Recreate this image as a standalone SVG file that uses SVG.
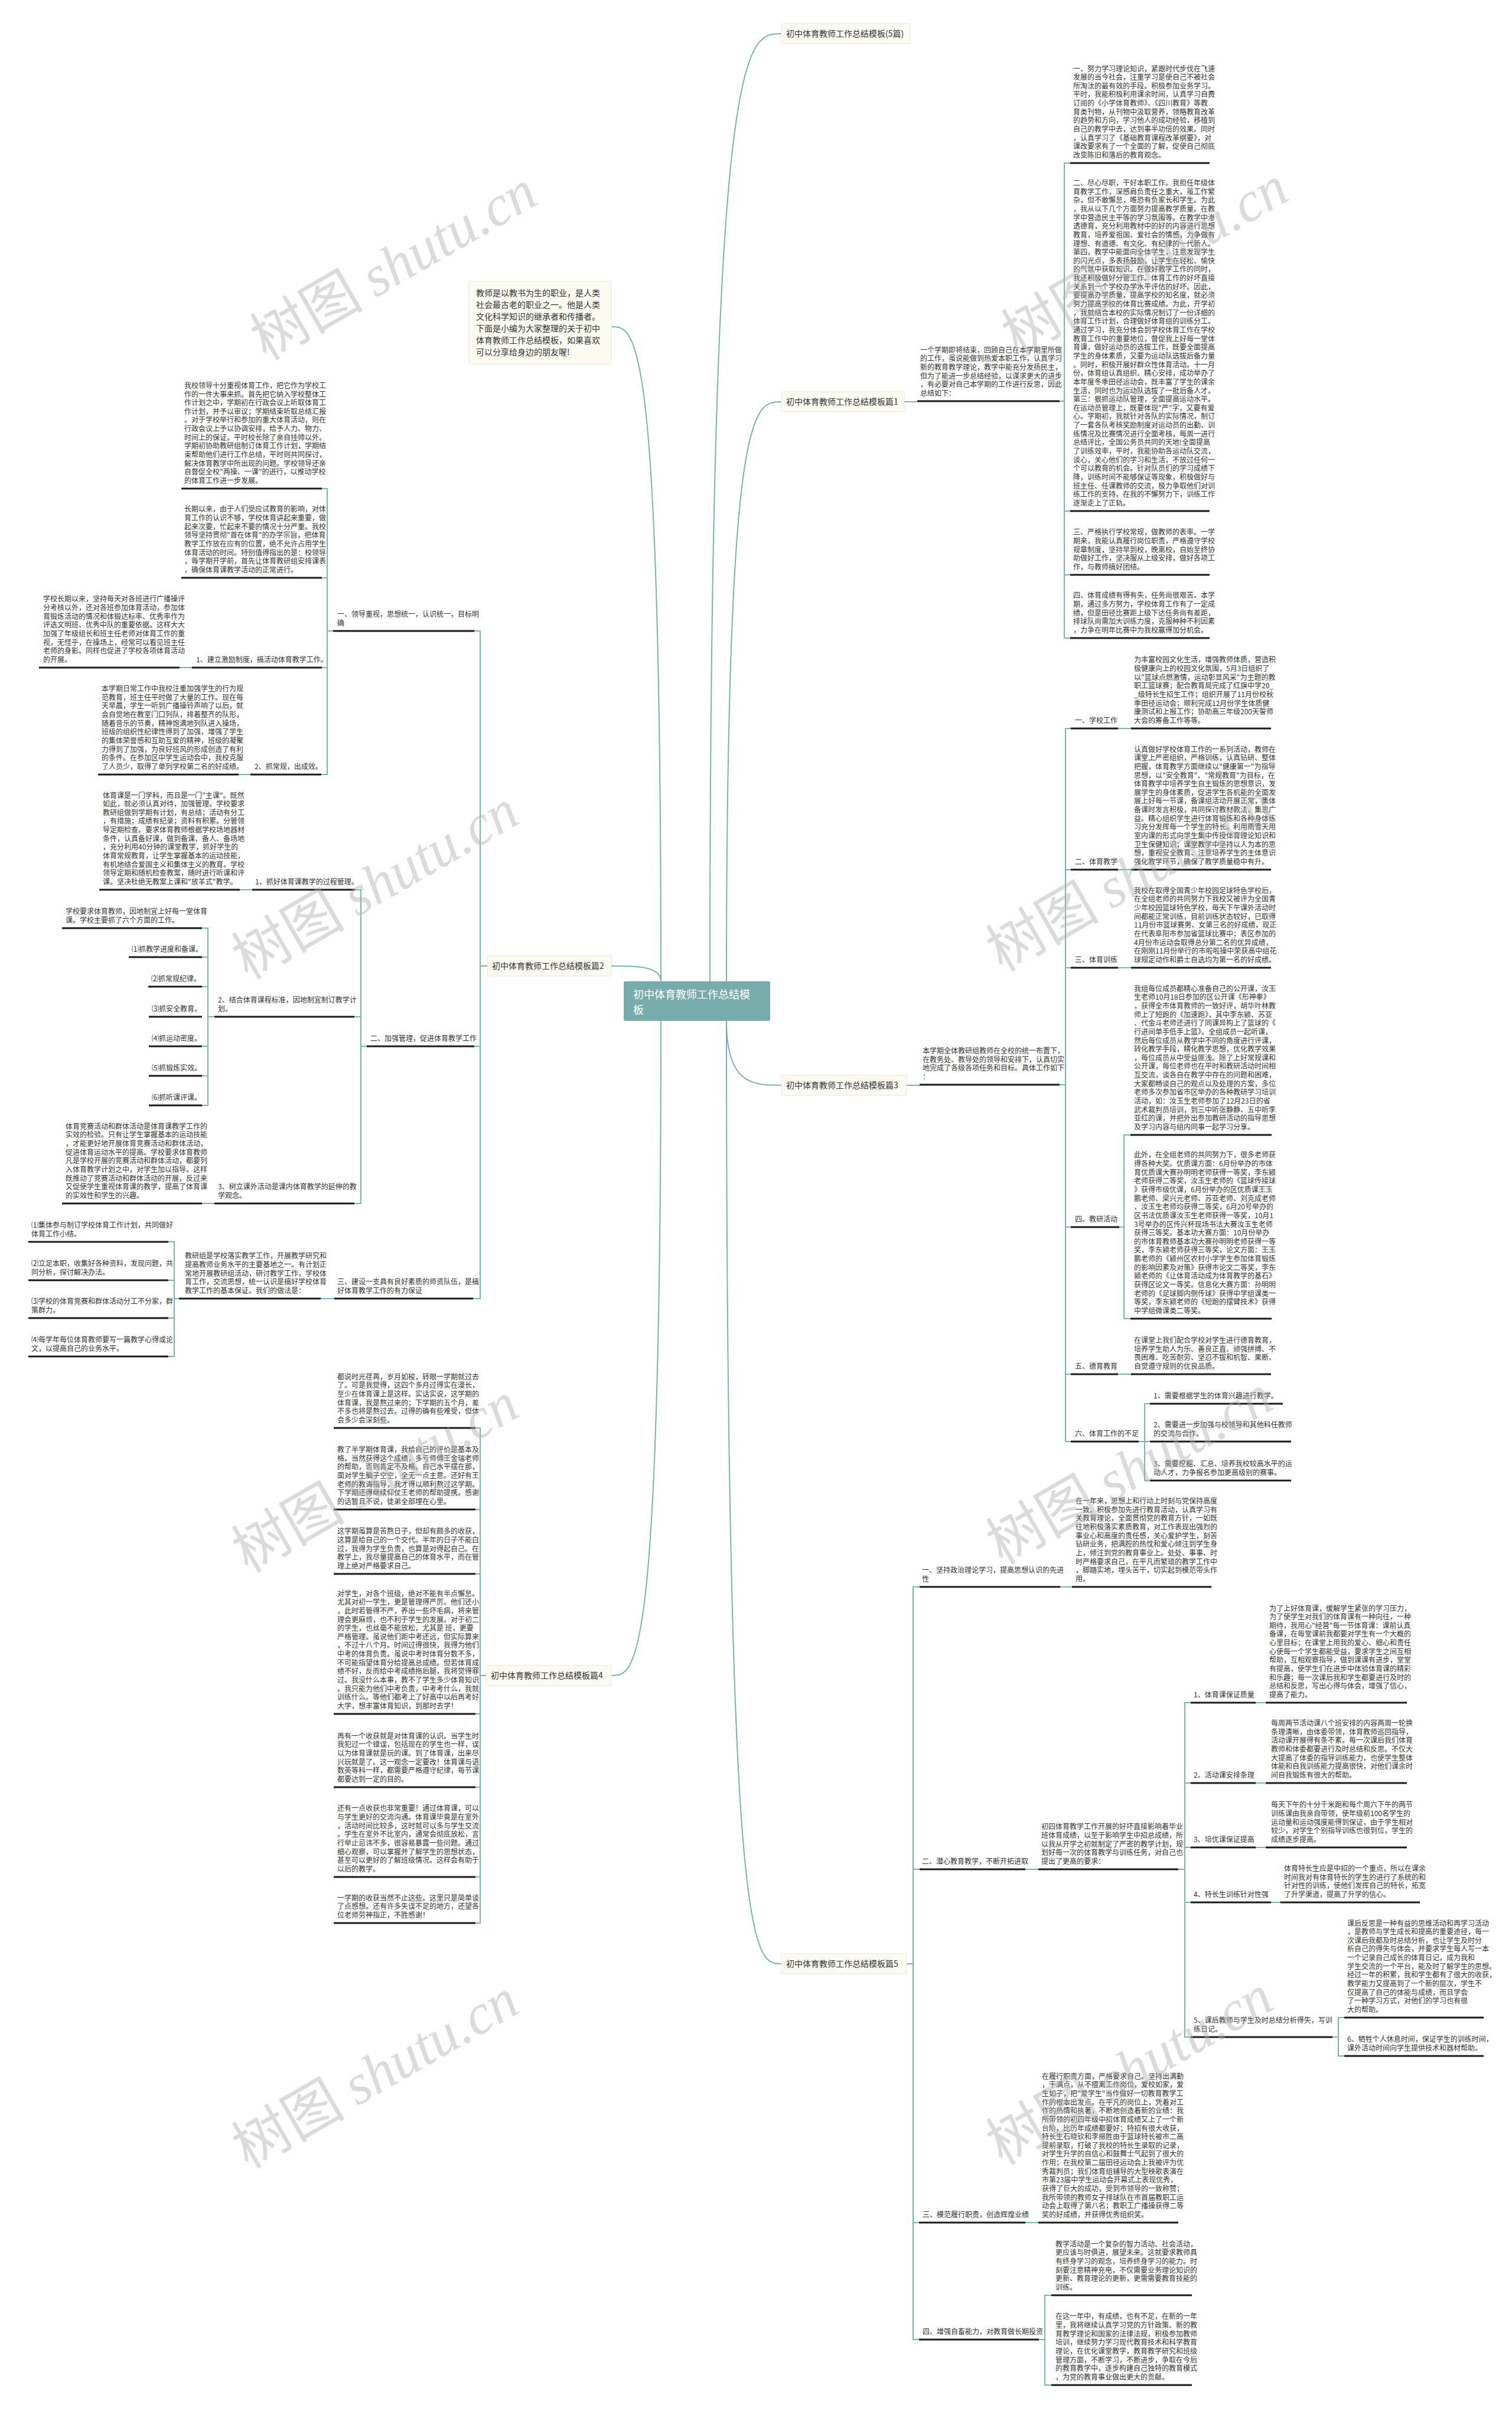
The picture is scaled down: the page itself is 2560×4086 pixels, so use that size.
<svg xmlns="http://www.w3.org/2000/svg" width="2560" height="4086" viewBox="0 0 2560 4086">
<style>
.c{fill:none;stroke:#7db2b2;stroke-width:2}
.u{stroke:#1a1a1a;stroke-width:3}
text{font-family:"Noto Sans CJK SC","Noto Sans",sans-serif;fill:#333}
.p{font-size:12px}
.h{font-size:14px}
.b{fill:#fcfbf1;stroke:#e9e5d3;stroke-width:1}
.wm{font-family:"Noto Sans CJK SC",serif;font-size:96px;fill:#b0b0b0;opacity:0.45}
.wm tspan{font-family:"Liberation Serif",serif;font-style:italic}
</style>
<rect width="2560" height="4086" fill="#ffffff"/>
<g id="connectors">
<path class="c" d="M1202,1661 C1202,57 1262,57 1323,57"/>
<path class="c" d="M1230,1661 C1230,680 1276,680 1323,680"/>
<path class="c" d="M1230,1728 C1230,1837 1276,1837 1323,1837"/>
<path class="c" d="M1230,1728 C1230,3324 1276,3324 1323,3324"/>
<path class="c" d="M1119,1661 C1119,553 1077,553 1035,553"/>
<path class="c" d="M1119,1661 C1119,1635 1077,1635 1035,1635"/>
<path class="c" d="M1119,1728 C1119,2836 1077,2836 1035,2836"/>
<path class="c" d="M1531,680 H1553"/>
<path class="c" d="M1794,679 H1802 V276 H1812 M1802,679 V1080 H1812 M1802,865 H1812 M1802,973 H1812"/>
<path class="c" d="M1535,1837 H1557"/>
<path class="c" d="M1794,1836 H1804 V1233 H1813 M1804,1836 V2440 H1813 M1804,1472 H1813 M1804,1638 H1813 M1804,2077 H1813 M1804,2326 H1813"/>
<path class="c" d="M1893,1233 H1915 M1893,1472 H1915 M1893,1638 H1915 M1893,2326 H1915"/>
<path class="c" d="M1895,2077 H1903 V1921 H1914 M1903,2077 V2232 H1914"/>
<path class="c" d="M1928,2440 H1938 V2376 H1947 M1938,2440 V2506 H1947 M1938,2440 H1947"/>
<path class="c" d="M1535,3324 H1546 V2686 H1557 M1546,3324 V3960 H1557 M1546,3164 H1557 M1546,3762 H1557"/>
<path class="c" d="M1795,2686 H1815 M1736,3164 H1758 M1736,3762 H1758"/>
<path class="c" d="M1995,3164 H2006 V2882 H2016 M2006,3164 V3448 H2016 M2006,3018 H2016 M2006,3127 H2016 M2006,3220 H2016"/>
<path class="c" d="M2126,2882 H2143 M2126,3018 H2143 M2126,3127 H2143 M2152,3220 H2168"/>
<path class="c" d="M2256,3448 H2266 V3415 H2276 M2266,3448 V3480 H2276"/>
<path class="c" d="M1759,3960 H1769 V3885 H1780 M1769,3960 V4037 H1780"/>
<path class="c" d="M825,1635 H813 V1068 H803 M813,1635 V2198 H801 M813,1771 H803"/>
<path class="c" d="M564,1068 H554 V827 H545 M554,1068 V1311 H544 M554,978 H545 M554,1130 H545"/>
<path class="c" d="M325,1130 H304 M424,1311 H404"/>
<path class="c" d="M621,1771 H611 V1506 H601 M611,1771 V2037 H600 M611,1721 H600"/>
<path class="c" d="M427,1506 H406 M363,2037 H342"/>
<path class="c" d="M363,1721 H352 V1571 H342 M352,1721 V1871 H342 M352,1620 H342 M352,1670 H342 M352,1771 H342 M352,1821 H342"/>
<path class="c" d="M566,2198 H543"/>
<path class="c" d="M303,2198 H295 V2102 H285 M295,2198 V2296 H285 M295,2167 H285 M295,2231 H285"/>
<path class="c" d="M823,2836 H813 V2417 H805 M813,2836 V3255 H805 M813,2555 H805 M813,2664 H805 M813,2901 H805 M813,3025 H805 M813,3177 H805"/>
</g>

<g id="center">
<rect x="1056" y="1661" width="248" height="67" rx="3" fill="#78abab"/>
<text x="1072" y="1690" style="font-size:18px" fill="#ffffff"><tspan x="1072" y="1690" fill="#ffffff">初中体育教师工作总结模</tspan><tspan x="1072" y="1716" fill="#ffffff">板</tspan></text>
</g>

<g id="title">
<rect class="b" x="1323" y="40" width="218" height="34" rx="2"/>
<text class="h" x="1331" y="62">初中体育教师工作总结模板(5篇)</text>
</g>

<g id="intro">
<rect class="b" x="794" y="476" width="241" height="140" rx="2"/>
<text class="h"><tspan x="806" y="501">教师是以教书为生的职业，是人类</tspan><tspan x="806" y="521">社会最古老的职业之一。他是人类</tspan><tspan x="806" y="541">文化科学知识的继承者和传播者。</tspan><tspan x="806" y="561">下面是小编为大家整理的关于初中</tspan><tspan x="806" y="581">体育教师工作总结模板，如果喜欢</tspan><tspan x="806" y="601">可以分享给身边的朋友喔!</tspan></text>
</g>

<!-- Board 1 -->
<g id="b1">
<rect class="b" x="1323" y="663" width="208" height="34" rx="2"/>
<text class="h" x="1331" y="685">初中体育教师工作总结模板篇1</text>
</g>
<g id="b1-intro">
<line class="u" x1="1553" y1="679" x2="1794" y2="679"/>
<text class="p"><tspan x="1558" y="596.75">一个学期即将结束，回顾自己在本学期里所做</tspan><tspan x="1558" dy="14.65">的工作，虽说能做到热爱本职工作，认真学习</tspan><tspan x="1558" dy="14.65">新的教育教学理论，教学中能充分发扬民主，</tspan><tspan x="1558" dy="14.65">但为了能进一步总结经验，以谋求更大的进步</tspan><tspan x="1558" dy="14.65">，有必要对自己本学期的工作进行反思，因此</tspan><tspan x="1558" dy="14.65">总结如下：</tspan></text>
</g>
<g id="b1-p1">
<line class="u" x1="1812" y1="276" x2="2048" y2="276"/>
<text class="p"><tspan x="1817" y="120.5">一、努力学习理论知识，紧跟时代步伐在飞速</tspan><tspan x="1817" dy="14.65">发展的当今社会，注重学习是使自己不被社会</tspan><tspan x="1817" dy="14.65">所淘汰的最有效的手段。积极参加业务学习。</tspan><tspan x="1817" dy="14.65">平时，我能积极利用课余时间，认真学习自费</tspan><tspan x="1817" dy="14.65">订阅的《小学体育教师》、《四川教育》等教</tspan><tspan x="1817" dy="14.65">育类刊物，从刊物中汲取营养，领略教育改革</tspan><tspan x="1817" dy="14.65">的趋势和方向，学习他人的成功经验，移植到</tspan><tspan x="1817" dy="14.65">自己的教学中去，达到事半功倍的效果。同时</tspan><tspan x="1817" dy="14.65">，认真学习了《基础教育课程改革纲要》，对</tspan><tspan x="1817" dy="14.65">课改要求有了一个全面的了解，促使自己彻底</tspan><tspan x="1817" dy="14.65">改变陈旧和落后的教育观念。</tspan></text>
</g>
<g id="b1-p2">
<line class="u" x1="1812" y1="865" x2="2048" y2="865"/>
<text class="p"><tspan x="1817" y="313.95">二、尽心尽职，干好本职工作。我担任年级体</tspan><tspan x="1817" dy="14.65">育教学工作，深感肩负责任之重大，虽工作繁</tspan><tspan x="1817" dy="14.65">杂，但不敢懈怠，唯恐有负家长和学生。为此</tspan><tspan x="1817" dy="14.65">，我从以下几个方面努力提高教学质量。在教</tspan><tspan x="1817" dy="14.65">学中营造民主平等的学习氛围等。在教学中渗</tspan><tspan x="1817" dy="14.65">透德育，充分利用教材中的好的内容进行思想</tspan><tspan x="1817" dy="14.65">教育，培养爱祖国、爱社会的情感，力争做有</tspan><tspan x="1817" dy="14.65">理想、有道德、有文化、有纪律的一代新人。</tspan><tspan x="1817" dy="14.65">第四，教学中能面向全体学生，注意发现学生</tspan><tspan x="1817" dy="14.65">的闪光点，多表扬鼓励，让学生在轻松、愉快</tspan><tspan x="1817" dy="14.65">的气氛中获取知识。在做好教学工作的同时，</tspan><tspan x="1817" dy="14.65">我还积极做好分管工作。体育工作的好坏直接</tspan><tspan x="1817" dy="14.65">关系到一个学校办学水平评估的好坏。因此，</tspan><tspan x="1817" dy="14.65">要提高办学质量，提高学校的知名度，就必须</tspan><tspan x="1817" dy="14.65">努力提高学校的体育比赛成绩。为此，开学初</tspan><tspan x="1817" dy="14.65">，我就结合本校的实际情况制订了一份详细的</tspan><tspan x="1817" dy="14.65">体育工作计划，合理做好体育组的训练分工。</tspan><tspan x="1817" dy="14.65">通过学习，我充分体会到学校体育工作在学校</tspan><tspan x="1817" dy="14.65">教育工作中的重要地位，督促我上好每一堂体</tspan><tspan x="1817" dy="14.65">育课，做好运动员的选拔工作，既要全面提高</tspan><tspan x="1817" dy="14.65">学生的身体素质，又要为运动队选拔后备力量</tspan><tspan x="1817" dy="14.65">。同时，积极开展好群众性体育活动。十一月</tspan><tspan x="1817" dy="14.65">份，体育组认真组织、精心安排，成功举办了</tspan><tspan x="1817" dy="14.65">本年度冬季田径运动会，既丰富了学生的课余</tspan><tspan x="1817" dy="14.65">生活，同时也为运动队选拔了一批后备人才。</tspan><tspan x="1817" dy="14.65">第三：狠抓运动队管理，全面提高运动水平。</tspan><tspan x="1817" dy="14.65">在运动员管理上，既要体现"严"字，又要有爱</tspan><tspan x="1817" dy="14.65">心。学期初，我就针对各队的实际情况，制订</tspan><tspan x="1817" dy="14.65">了一套各队考核奖励制度对运动员的出勤、训</tspan><tspan x="1817" dy="14.65">练情况及比赛情况进行全面考核，每周一进行</tspan><tspan x="1817" dy="14.65">总结评比，全国公务员共同的天地!全面提高</tspan><tspan x="1817" dy="14.65">了训练效率，平时，我能协助各运动队交流，</tspan><tspan x="1817" dy="14.65">谈心，关心他们的学习和生活，不放过任何一</tspan><tspan x="1817" dy="14.65">个可以教育的机会。针对队员们的学习成绩下</tspan><tspan x="1817" dy="14.65">降，训练时间不能够保证等现象，积极做好与</tspan><tspan x="1817" dy="14.65">班主任、任课教师的交流，极力争取他们对训</tspan><tspan x="1817" dy="14.65">练工作的支持。在我的不懈努力下，训练工作</tspan><tspan x="1817" dy="14.65">逐渐走上了正轨。</tspan></text>
</g>
<g id="b1-p3">
<line class="u" x1="1812" y1="973" x2="2048" y2="973"/>
<text class="p"><tspan x="1817" y="905.4">三、严格执行学校常规，做教师的表率。一学</tspan><tspan x="1817" dy="14.65">期来，我能认真履行岗位职责，严格遵守学校</tspan><tspan x="1817" dy="14.65">规章制度，坚持早到校，晚离校，自始至终协</tspan><tspan x="1817" dy="14.65">助做好工作，坚决服从上级安排，做好各项工</tspan><tspan x="1817" dy="14.65">作，与教师搞好团结。</tspan></text>
</g>
<g id="b1-p4">
<line class="u" x1="1812" y1="1080" x2="2048" y2="1080"/>
<text class="p"><tspan x="1817" y="1012.4">四、体育成绩有得有失，任务尚很艰苦。本学</tspan><tspan x="1817" dy="14.65">期，通过多方努力，学校体育工作有了一定成</tspan><tspan x="1817" dy="14.65">绩，但是田径比赛距上级下达任务尚有差距，</tspan><tspan x="1817" dy="14.65">排球队尚需加大训练力度，克服种种不利因素</tspan><tspan x="1817" dy="14.65">，力争在明年比赛中为我校赢得加分机会。</tspan></text>
</g>

<!-- Board 3 -->
<g id="b3">
<rect class="b" x="1323" y="1820" width="212" height="34" rx="2"/>
<text class="h" x="1331" y="1842">初中体育教师工作总结模板篇3</text>
</g>
<g id="b3-intro">
<line class="u" x1="1557" y1="1836" x2="1794" y2="1836"/>
<text class="p"><tspan x="1562" y="1783.05">本学期全体教研组教师在全校的统一布置下，</tspan><tspan x="1562" dy="14.65">在教务处、教导处的领导和安排下，认真切实</tspan><tspan x="1562" dy="14.65">地完成了各级各项任务和目标。具体工作如下</tspan><tspan x="1562" dy="14.65">：</tspan></text>
</g>
<g id="b3-1">
<line class="u" x1="1813" y1="1233" x2="1893" y2="1233"/>
<text class="p" x="1820" y="1224">一、学校工作</text>
</g>
<g id="b3-1p">
<line class="u" x1="1915" y1="1233" x2="2152" y2="1233"/>
<text class="p"><tspan x="1920" y="1121.45">为丰富校园文化生活，增强教师体质，营造积</tspan><tspan x="1920" dy="14.65">极健康向上的校园文化氛围，5月3日组织了</tspan><tspan x="1920" dy="14.65">以"篮球点燃激情，运动彰显风采"为主题的教</tspan><tspan x="1920" dy="14.65">职工篮球赛；配合教育局完成了红旗中学20_</tspan><tspan x="1920" dy="14.65">_级特长生招生工作；组织开展了11月份校秋</tspan><tspan x="1920" dy="14.65">季田径运动会；顺利完成12月份学生体质健</tspan><tspan x="1920" dy="14.65">康测试和上报工作；协助高三年级200天誓师</tspan><tspan x="1920" dy="14.65">大会的筹备工作等等。</tspan></text>
</g>
<g id="b3-2">
<line class="u" x1="1813" y1="1472" x2="1893" y2="1472"/>
<text class="p" x="1820" y="1463">二、体育教学</text>
</g>
<g id="b3-2p">
<line class="u" x1="1915" y1="1472" x2="2152" y2="1472"/>
<text class="p"><tspan x="1920" y="1272.55">认真做好学校体育工作的一系列活动，教师在</tspan><tspan x="1920" dy="14.65">课堂上严密组织，严格训练，认真钻研、整体</tspan><tspan x="1920" dy="14.65">把握，体育教学方面继续以"健康第一"为指导</tspan><tspan x="1920" dy="14.65">思想，以"安全教育"、"常规教育"为目标，在</tspan><tspan x="1920" dy="14.65">体育教学中培养学生自主锻炼的思想意识，发</tspan><tspan x="1920" dy="14.65">展学生的身体素质，促进学生各机能的全面发</tspan><tspan x="1920" dy="14.65">展上好每一节课，备课组活动开展正常，集体</tspan><tspan x="1920" dy="14.65">备课时发言积极，共同探讨教材教法，集思广</tspan><tspan x="1920" dy="14.65">益。精心组织学生进行体育锻炼和各种身体练</tspan><tspan x="1920" dy="14.65">习充分发挥每一个学生的特长。利用雨雪天用</tspan><tspan x="1920" dy="14.65">室内课的形式向学生集中传授体育理论知识和</tspan><tspan x="1920" dy="14.65">卫生保健知识；课堂教学中坚持以人为本的思</tspan><tspan x="1920" dy="14.65">想，重视安全教育、注意培养学生的主体意识</tspan><tspan x="1920" dy="14.65">强化教学环节，确保了教学质量稳中有升。</tspan></text>
</g>
<g id="b3-3">
<line class="u" x1="1813" y1="1638" x2="1893" y2="1638"/>
<text class="p" x="1820" y="1629">三、体育训练</text>
</g>
<g id="b3-3p">
<line class="u" x1="1915" y1="1638" x2="2152" y2="1638"/>
<text class="p"><tspan x="1920" y="1511.8">我校在取得全国青少年校园足球特色学校后，</tspan><tspan x="1920" dy="14.65">在全组老师的共同努力下我校又被评为全国青</tspan><tspan x="1920" dy="14.65">少年校园篮球特色学校，每天下午课外活动时</tspan><tspan x="1920" dy="14.65">间都能正常训练，目前训练状态较好，已取得</tspan><tspan x="1920" dy="14.65">11月份市篮球赛男、女第三名的好成绩，现正</tspan><tspan x="1920" dy="14.65">在代表阜阳市参加省篮球比赛中；表区参加的</tspan><tspan x="1920" dy="14.65">4月份市运动会取得总分第二名的优异成绩，</tspan><tspan x="1920" dy="14.65">在刚刚11月份举行的市啦啦操中荣获高中组花</tspan><tspan x="1920" dy="14.65">球规定动作和爵士自选均为第一名的好成绩。</tspan></text>
</g>
<g id="b3-4">
<line class="u" x1="1813" y1="2077" x2="1895" y2="2077"/>
<text class="p" x="1820" y="2068">四、教研活动</text>
</g>
<g id="b3-4a">
<line class="u" x1="1914" y1="1921" x2="2153" y2="1921"/>
<text class="p"><tspan x="1920" y="1677.6">我组每位成员都精心准备自己的公开课，汝玉</tspan><tspan x="1920" dy="14.65">生老师10月18日参加的区公开课《形神拳》</tspan><tspan x="1920" dy="14.65">，获得全市体育教师的一致好评，胡华叶林教</tspan><tspan x="1920" dy="14.65">师上了短跑的《加速跑》，其中李东颍、苏亚</tspan><tspan x="1920" dy="14.65">、代金斗老师还进行了同课异构上了篮球的《</tspan><tspan x="1920" dy="14.65">行进间单手低手上篮》。全组成员一起听课，</tspan><tspan x="1920" dy="14.65">然后每位成员从教学中不同的角度进行评课，</tspan><tspan x="1920" dy="14.65">转化教学手段，精化教学思想，优化教学效果</tspan><tspan x="1920" dy="14.65">，每位成员从中受益匪浅。除了上好常规课和</tspan><tspan x="1920" dy="14.65">公开课，每位老师也在平时和教研活动时间相</tspan><tspan x="1920" dy="14.65">互交流，谈各自在教学中存在的问题和困难，</tspan><tspan x="1920" dy="14.65">大家都畅谈自己的观点以及处理的方案，多位</tspan><tspan x="1920" dy="14.65">老师多次参加省市区举办的各种教研学习培训</tspan><tspan x="1920" dy="14.65">活动，如：汝玉生老师参加了12月23日的省</tspan><tspan x="1920" dy="14.65">武术裁判员培训，到三中听张静静、五中听李</tspan><tspan x="1920" dy="14.65">亚红的课，并把外出参加教研活动的指导思想</tspan><tspan x="1920" dy="14.65">及学习内容与组内同事一起学习分享。</tspan></text>
</g>
<g id="b3-4b">
<line class="u" x1="1914" y1="2232" x2="2153" y2="2232"/>
<text class="p"><tspan x="1920" y="1959.3">此外，在全组老师的共同努力下，很多老师获</tspan><tspan x="1920" dy="14.65">得各种大奖。优质课方面：6月份举办的市体</tspan><tspan x="1920" dy="14.65">育优质课大赛孙明明老师获得一等奖，李东颍</tspan><tspan x="1920" dy="14.65">老师获得二等奖，汝玉生老师的《篮球传接球</tspan><tspan x="1920" dy="14.65">》获得市级优课，6月份举办的区优质课王玉</tspan><tspan x="1920" dy="14.65">鹏老师、梁兴元老师、苏亚老师、刘克成老师</tspan><tspan x="1920" dy="14.65">、汝玉生老师均获得二等奖，6月20号举办的</tspan><tspan x="1920" dy="14.65">区书法优质课汝玉生老师获得一等奖，10月1</tspan><tspan x="1920" dy="14.65">3号举办的区传兴杯现场书法大赛汝玉生老师</tspan><tspan x="1920" dy="14.65">获得三等奖。基本功大赛方面：10月份举办</tspan><tspan x="1920" dy="14.65">的市体育教师基本功大赛孙明明老师获得一等</tspan><tspan x="1920" dy="14.65">奖，李东颍老师获得三等奖，论文方面：王玉</tspan><tspan x="1920" dy="14.65">鹏老师的《颍州区农村小学学生参加体育锻炼</tspan><tspan x="1920" dy="14.65">的影响因素及对策》获得市论文二等奖，李东</tspan><tspan x="1920" dy="14.65">颍老师的《让体育活动成为体育教学的基石》</tspan><tspan x="1920" dy="14.65">获得区论文一等奖。信息化大赛方面：孙明明</tspan><tspan x="1920" dy="14.65">老师的《足球脚内侧传球》获得中学组课类一</tspan><tspan x="1920" dy="14.65">等奖，李东颍老师的《短跑的摆臂技术》获得</tspan><tspan x="1920" dy="14.65">中学组微课类二等奖。</tspan></text>
</g>
<g id="b3-5">
<line class="u" x1="1813" y1="2326" x2="1893" y2="2326"/>
<text class="p" x="1820" y="2317">五、德育教育</text>
</g>
<g id="b3-5p">
<line class="u" x1="1915" y1="2326" x2="2152" y2="2326"/>
<text class="p"><tspan x="1920" y="2273.05">在课堂上我们配合学校对学生进行德育教育，</tspan><tspan x="1920" dy="14.65">培养学生助人为乐、善良正直、顽强拼搏、不</tspan><tspan x="1920" dy="14.65">畏困难、吃苦耐劳、坚忍不拔和机智、果断、</tspan><tspan x="1920" dy="14.65">自觉遵守规则的优良品质。</tspan></text>
</g>
<g id="b3-6">
<line class="u" x1="1813" y1="2440" x2="1928" y2="2440"/>
<text class="p" x="1820" y="2431">六、体育工作的不足</text>
</g>
<g id="b3-6-1">
<line class="u" x1="1947" y1="2376" x2="2172" y2="2376"/>
<text class="p" x="1953" y="2367">1、需要根据学生的体育兴趣进行教学。</text>
</g>
<g id="b3-6-2">
<line class="u" x1="1947" y1="2440" x2="2186" y2="2440"/>
<text class="p"><tspan x="1953" y="2416.35">2、需要进一步加强与校领导和其他科任教师</tspan><tspan x="1953" dy="14.65">的交流与合作。</tspan></text>
</g>
<g id="b3-6-3">
<line class="u" x1="1947" y1="2506" x2="2186" y2="2506"/>
<text class="p"><tspan x="1953" y="2482.35">3、需要挖掘、汇总、培养我校较高水平的运</tspan><tspan x="1953" dy="14.65">动人才，力争报名参加更高级别的赛事。</tspan></text>
</g>

<!-- Board 5 -->
<g id="b5">
<rect class="b" x="1323" y="3307" width="212" height="34" rx="2"/>
<text class="h" x="1331" y="3329">初中体育教师工作总结模板篇5</text>
</g>
<g id="b5-1">
<line class="u" x1="1557" y1="2686" x2="1795" y2="2686"/>
<text class="p"><tspan x="1561" y="2662.35">一、坚持政治理论学习，提高思想认识的先进</tspan><tspan x="1561" dy="14.65">性</tspan></text>
</g>
<g id="b5-1p">
<line class="u" x1="1815" y1="2686" x2="2051" y2="2686"/>
<text class="p"><tspan x="1821" y="2545.15">在一年来，思想上和行动上时刻与党保持高度</tspan><tspan x="1821" dy="14.65">一致。积极参加先进行教育活动，认真学习有</tspan><tspan x="1821" dy="14.65">关教育理论，全面贯彻党的教育方针，一如既</tspan><tspan x="1821" dy="14.65">往地积极落实素质教育，对工作表现出强烈的</tspan><tspan x="1821" dy="14.65">事业心和高度的责任感，关心爱护学生，刻苦</tspan><tspan x="1821" dy="14.65">钻研业务，把满腔的热忱和爱心倾注到学生身</tspan><tspan x="1821" dy="14.65">上，倾注到党的教育事业上。处处、事事、时</tspan><tspan x="1821" dy="14.65">时严格要求自己，在平凡而繁琐的教学工作中</tspan><tspan x="1821" dy="14.65">，脚踏实地，埋头苦干，切实起到模范带头作</tspan><tspan x="1821" dy="14.65">用。</tspan></text>
</g>
<g id="b5-2">
<line class="u" x1="1557" y1="3164" x2="1736" y2="3164"/>
<text class="p" x="1561" y="3155">二、潜心教育教学，不断开拓进取</text>
</g>
<g id="b5-2p">
<line class="u" x1="1758" y1="3164" x2="1995" y2="3164"/>
<text class="p"><tspan x="1763" y="3096.4">初四体育教学工作开展的好坏直接影响着毕业</tspan><tspan x="1763" dy="14.65">班体育成绩，以至于影响学生中招总成绩，所</tspan><tspan x="1763" dy="14.65">以我从开学之初就制定了严密的教学计划，规</tspan><tspan x="1763" dy="14.65">划好每一次的体育教学与训练任务，对自己也</tspan><tspan x="1763" dy="14.65">提出了更高的要求：</tspan></text>
</g>
<g id="b5-2-1">
<line class="u" x1="2016" y1="2882" x2="2126" y2="2882"/>
<text class="p" x="2021" y="2873">1、体育课保证质量</text>
</g>
<g id="b5-2-1p">
<line class="u" x1="2143" y1="2882" x2="2382" y2="2882"/>
<text class="p"><tspan x="2149" y="2726.5">为了上好体育课，缓解学生紧张的学习压力，</tspan><tspan x="2149" dy="14.65">为了使学生对我们的体育课有一种向往，一种</tspan><tspan x="2149" dy="14.65">期待，我用心"经营"每一节体育课：课前认真</tspan><tspan x="2149" dy="14.65">备课，在每堂课前我都要对学生有一个大概的</tspan><tspan x="2149" dy="14.65">心里目标；在课堂上用我的爱心、细心和责任</tspan><tspan x="2149" dy="14.65">心使每一个学生都能受益，要求学生之间互相</tspan><tspan x="2149" dy="14.65">帮助，互相观察指导，做到课课有进步，堂堂</tspan><tspan x="2149" dy="14.65">有提高，使学生们在进步中体验体育课的精彩</tspan><tspan x="2149" dy="14.65">和乐趣；每一次课后我和学生都要进行及时的</tspan><tspan x="2149" dy="14.65">总结和反思，写出心得与体会，增强了信心，</tspan><tspan x="2149" dy="14.65">提高了能力。</tspan></text>
</g>
<g id="b5-2-2">
<line class="u" x1="2016" y1="3018" x2="2126" y2="3018"/>
<text class="p" x="2021" y="3009">2、活动课安排条理</text>
</g>
<g id="b5-2-2p">
<line class="u" x1="2143" y1="3018" x2="2382" y2="3018"/>
<text class="p"><tspan x="2152" y="2921.1">每周两节活动课八个班安排的内容两周一轮换</tspan><tspan x="2152" dy="14.65">条理清晰，由体委带领，体育教师巡回指导，</tspan><tspan x="2152" dy="14.65">活动课开展得有条不紊。每一次课后我们体育</tspan><tspan x="2152" dy="14.65">教师和体委都要进行及时总结和反思。不仅大</tspan><tspan x="2152" dy="14.65">大提高了体委的指导训练能力，也使学生整体</tspan><tspan x="2152" dy="14.65">体能和自我训练能力提高很快，对他们课余时</tspan><tspan x="2152" dy="14.65">间自我锻炼有很大的帮助。</tspan></text>
</g>
<g id="b5-2-3">
<line class="u" x1="2016" y1="3127" x2="2126" y2="3127"/>
<text class="p" x="2021" y="3118">3、培优课保证提高</text>
</g>
<g id="b5-2-3p">
<line class="u" x1="2143" y1="3127" x2="2382" y2="3127"/>
<text class="p"><tspan x="2152" y="3059.4">每天下午的十分千米跑和每个周六下午的两节</tspan><tspan x="2152" dy="14.65">训练课由我亲自带领，使年级前100名学生的</tspan><tspan x="2152" dy="14.65">运动量和运动强度能得到保证，由于学生相对</tspan><tspan x="2152" dy="14.65">较少，对学生个别指导训练也很到位，学生的</tspan><tspan x="2152" dy="14.65">成绩逐步提高。</tspan></text>
</g>
<g id="b5-2-4">
<line class="u" x1="2016" y1="3220" x2="2152" y2="3220"/>
<text class="p" x="2021" y="3211">4、特长生训练针对性强</text>
</g>
<g id="b5-2-4p">
<line class="u" x1="2168" y1="3220" x2="2404" y2="3220"/>
<text class="p"><tspan x="2174" y="3167.05">体育特长生应是中招的一个重点，所以在课余</tspan><tspan x="2174" dy="14.65">时间我对有体育特长的学生的进行了系统的和</tspan><tspan x="2174" dy="14.65">针对性的训练，使他们发挥自己的特长，拓宽</tspan><tspan x="2174" dy="14.65">了升学渠道，提高了升学的信心。</tspan></text>
</g>
<g id="b5-2-5">
<line class="u" x1="2016" y1="3448" x2="2256" y2="3448"/>
<text class="p"><tspan x="2021" y="3424.35">5、课后教师与学生及时总结分析得失，写训</tspan><tspan x="2021" dy="14.65">练日记。</tspan></text>
</g>
<g id="b5-2-5p">
<line class="u" x1="2276" y1="3415" x2="2512" y2="3415"/>
<text class="p"><tspan x="2281" y="3259.5">课后反思是一种有益的思维活动和再学习活动</tspan><tspan x="2281" dy="14.65">，是教师与学生成长和提高的重要途径，每一</tspan><tspan x="2281" dy="14.65">次课后我都及时总结分析，也让学生及时分</tspan><tspan x="2281" dy="14.65">析自己的得失与体会，并要求学生每人写一本</tspan><tspan x="2281" dy="14.65">一个记录自己成长的体育日记，成为我和</tspan><tspan x="2281" dy="14.65">学生交流的一个平台，能及时了解学生的思想。</tspan><tspan x="2281" dy="14.65">经过一年的积累，我和学生都有了很大的收获，</tspan><tspan x="2281" dy="14.65">教学能力又提高到了一个新的层次，学生不</tspan><tspan x="2281" dy="14.65">仅提高了自己的体能与成绩，而且学会</tspan><tspan x="2281" dy="14.65">了一种学习方式，对他们的学习也有很</tspan><tspan x="2281" dy="14.65">大的帮助。</tspan></text>
</g>
<g id="b5-2-6">
<line class="u" x1="2276" y1="3480" x2="2512" y2="3480"/>
<text class="p"><tspan x="2281" y="3456.35">6、牺牲个人休息时间，保证学生的训练时间，</tspan><tspan x="2281" dy="14.65">课外活动时间向学生提供技术和器材帮助。</tspan></text>
</g>
<g id="b5-3">
<line class="u" x1="1556" y1="3762" x2="1736" y2="3762"/>
<text class="p" x="1562" y="3753">三、模范履行职责，创造辉煌业绩</text>
</g>
<g id="b5-3p">
<line class="u" x1="1758" y1="3762" x2="1995" y2="3762"/>
<text class="p"><tspan x="1764" y="3518.6">在履行职责方面，严格要求自己。坚持出满勤</tspan><tspan x="1764" dy="14.65">，干满点，从不擅离工作岗位，爱校如家，爱</tspan><tspan x="1764" dy="14.65">生如子，把"爱学生"当作做好一切教育教学工</tspan><tspan x="1764" dy="14.65">作的根本出发点。在平凡的岗位上，凭着对工</tspan><tspan x="1764" dy="14.65">作的热情和执著，不断地创造着新的业绩：我</tspan><tspan x="1764" dy="14.65">所带领的初四年级中招体育成绩又上了一个新</tspan><tspan x="1764" dy="14.65">台阶，比历年成绩都要好；特招有很大收获，</tspan><tspan x="1764" dy="14.65">特长生石晓钦和李振胜由于篮球特长被市二高</tspan><tspan x="1764" dy="14.65">提前录取，打破了我校的特长生录取的记录，</tspan><tspan x="1764" dy="14.65">对学生升学的自信心和鼓舞士气起到了很大的</tspan><tspan x="1764" dy="14.65">作用；在我校第二届田径运动会上我被评为优</tspan><tspan x="1764" dy="14.65">秀裁判员；我们体育组辅导的大型秧歌表演在</tspan><tspan x="1764" dy="14.65">市第23届中学生运动会开幕式上表现优秀，</tspan><tspan x="1764" dy="14.65">获得了巨大的成功，受到市领导的一致称赞；</tspan><tspan x="1764" dy="14.65">我所带领的教师女子排球队在市首届教职工运</tspan><tspan x="1764" dy="14.65">动会上取得了第八名；教职工广播操获得二等</tspan><tspan x="1764" dy="14.65">奖的好成绩，并获得优秀组织奖。</tspan></text>
</g>
<g id="b5-4">
<line class="u" x1="1556" y1="3960" x2="1759" y2="3960"/>
<text class="p" x="1562" y="3951">四、增强自畜能力，对教育做长期投资</text>
</g>
<g id="b5-4a">
<line class="u" x1="1780" y1="3885" x2="2018" y2="3885"/>
<text class="p"><tspan x="1787" y="3802.75">教学活动是一个复杂的智力活动、社会活动，</tspan><tspan x="1787" dy="14.65">更应该与时俱进，展望未来。这就要求教师具</tspan><tspan x="1787" dy="14.65">有终身学习的观念，培养终身学习的能力。时</tspan><tspan x="1787" dy="14.65">刻要注意精神充电，不仅需要业务理论知识的</tspan><tspan x="1787" dy="14.65">更新、教育理论的更新，更需需要教育技能的</tspan><tspan x="1787" dy="14.65">训练。</tspan></text>
</g>
<g id="b5-4b">
<line class="u" x1="1780" y1="4037" x2="2018" y2="4037"/>
<text class="p"><tspan x="1787" y="3925.45">在这一年中，有成绩，也有不足，在新的一年</tspan><tspan x="1787" dy="14.65">里，我将继续认真学习党的方针政策、新的教</tspan><tspan x="1787" dy="14.65">育教学理论和国家的法律法规，积极参加教师</tspan><tspan x="1787" dy="14.65">培训，继续努力学习现代教育技术和科学教育</tspan><tspan x="1787" dy="14.65">理论，在优化课堂教学，教育教学研究和班级</tspan><tspan x="1787" dy="14.65">管理方面，不断学习，不断进步，争取在今后</tspan><tspan x="1787" dy="14.65">的教育教学中，逐步构建自己独特的教育模式</tspan><tspan x="1787" dy="14.65">，为党的教育事业做出更大的贡献。</tspan></text>
</g>

<!-- Board 2 -->
<g id="b2">
<rect class="b" x="825" y="1618" width="210" height="34" rx="2"/>
<text class="h" x="833" y="1640">初中体育教师工作总结模板篇2</text>
</g>
<g id="b2-1">
<line class="u" x1="564" y1="1068" x2="803" y2="1068"/>
<text class="p"><tspan x="571" y="1044.35">一、领导重视，思想统一，认识统一，目标明</tspan><tspan x="571" dy="14.65">确</tspan></text>
</g>
<g id="b2-1a">
<line class="u" x1="307" y1="827" x2="545" y2="827"/>
<text class="p"><tspan x="312" y="656.85">我校领导十分重视体育工作，把它作为学校工</tspan><tspan x="312" dy="14.65">作的一件大事来抓。首先把它纳入学校整体工</tspan><tspan x="312" dy="14.65">作计划之中，学期初在行政会议上听取体育工</tspan><tspan x="312" dy="14.65">作计划，并予以审议；学期结束听取总结汇报</tspan><tspan x="312" dy="14.65">。对于学校举行和参加的重大体育活动，则在</tspan><tspan x="312" dy="14.65">行政会议上予以协调安排，给予人力、物力、</tspan><tspan x="312" dy="14.65">时间上的保证。平时校长除了亲自挂帅以外。</tspan><tspan x="312" dy="14.65">学期初协助教研组制订体育工作计划，学期结</tspan><tspan x="312" dy="14.65">束帮助他们进行工作总结，平时则共同探讨，</tspan><tspan x="312" dy="14.65">解决体育教学中所出现的问题。学校领导还亲</tspan><tspan x="312" dy="14.65">自督促全校"两操、一课"的进行，以推动学校</tspan><tspan x="312" dy="14.65">的体育工作进一步发展。</tspan></text>
</g>
<g id="b2-1b">
<line class="u" x1="307" y1="978" x2="545" y2="978"/>
<text class="p"><tspan x="312" y="866.45">长期以来，由于人们受应试教育的影响，对体</tspan><tspan x="312" dy="14.65">育工作的认识不够，学校体育讲起来重要，做</tspan><tspan x="312" dy="14.65">起来次要，忙起来不要的情况十分严重。我校</tspan><tspan x="312" dy="14.65">领导坚持贯彻"首在体育"的办学宗旨，把体育</tspan><tspan x="312" dy="14.65">教学工作放在应有的位置，绝不允许占用学生</tspan><tspan x="312" dy="14.65">体育活动的时间。特别值得指出的是：校领导</tspan><tspan x="312" dy="14.65">，每学期开学前，首先让体育教研组安排课表</tspan><tspan x="312" dy="14.65">，确保体育课教学活动的正常进行。</tspan></text>
</g>
<g id="b2-1c">
<line class="u" x1="325" y1="1130" x2="545" y2="1130"/>
<text class="p" x="332" y="1121">1、建立激励制度，搞活动体育教学工作。</text>
</g>
<g id="b2-1cp">
<line class="u" x1="66" y1="1130" x2="304" y2="1130"/>
<text class="p"><tspan x="73" y="1018.45">学校长期以来，坚持每天对各班进行广播操评</tspan><tspan x="73" dy="14.65">分考核以外，还对各班参加体育活动，参加体</tspan><tspan x="73" dy="14.65">育锻炼活动的情况和体锻达标率、优秀率作为</tspan><tspan x="73" dy="14.65">评选文明班、优秀中队的重要依据。这样大大</tspan><tspan x="73" dy="14.65">加强了年级组长和班主任老师对体育工作的重</tspan><tspan x="73" dy="14.65">视，无怪乎，在操场上，经常可以看见班主任</tspan><tspan x="73" dy="14.65">老师的身影。同样也促进了学校各项体育活动</tspan><tspan x="73" dy="14.65">的开展。</tspan></text>
</g>
<g id="b2-1d">
<line class="u" x1="424" y1="1311" x2="544" y2="1311"/>
<text class="p" x="431" y="1302">2、抓常规，出成效。</text>
</g>
<g id="b2-1dp">
<line class="u" x1="166" y1="1311" x2="404" y2="1311"/>
<text class="p"><tspan x="172" y="1170.15">本学期日常工作中我校注重加强学生的行为规</tspan><tspan x="172" dy="14.65">范教育，班主任平时做了大量的工作。现在每</tspan><tspan x="172" dy="14.65">天早晨，学生一听到广播操铃声响了以后，就</tspan><tspan x="172" dy="14.65">会自觉地在教室门口列队，排着整齐的队形，</tspan><tspan x="172" dy="14.65">随着音乐的节奏，精神饱满地列队进入操场，</tspan><tspan x="172" dy="14.65">班级的组织性纪律性得到了加强，增强了学生</tspan><tspan x="172" dy="14.65">的集体荣誉感和互助互爱的精神，班级的凝聚</tspan><tspan x="172" dy="14.65">力得到了加强，为良好班风的形成创造了有利</tspan><tspan x="172" dy="14.65">的条件。在参加区中学生运动会中，我校克服</tspan><tspan x="172" dy="14.65">了人员少，取得了单列学校第二名的好成绩。</tspan></text>
</g>
<g id="b2-2">
<line class="u" x1="621" y1="1771" x2="803" y2="1771"/>
<text class="p" x="627" y="1762">二、加强管理，促进体育教学工作</text>
</g>
<g id="b2-2a">
<line class="u" x1="427" y1="1506" x2="601" y2="1506"/>
<text class="p" x="432" y="1497">1、抓好体育课教学的过程管理。</text>
</g>
<g id="b2-2ap">
<line class="u" x1="168" y1="1506" x2="406" y2="1506"/>
<text class="p"><tspan x="174" y="1350.5">体育课是一门学科，而且是一门"主课"。既然</tspan><tspan x="174" dy="14.65">如此，就必须认真对待，加强管理。学校要求</tspan><tspan x="174" dy="14.65">教研组做到学期有计划，有总结；活动有分工</tspan><tspan x="174" dy="14.65">，有措施；成绩有纪录；资料有积累。分管领</tspan><tspan x="174" dy="14.65">导定期检查。要求体育教师根据学校场地器材</tspan><tspan x="174" dy="14.65">条件，认真备好课，做到备课、备人、备场地</tspan><tspan x="174" dy="14.65">，充分利用40分钟的课堂教学，抓好学生的</tspan><tspan x="174" dy="14.65">体育常规教育，让学生掌握基本的运动技能，</tspan><tspan x="174" dy="14.65">有机地结合爱国主义和集体主义的教育。学校</tspan><tspan x="174" dy="14.65">领导定期和随机检查教案，随时进行听课和评</tspan><tspan x="174" dy="14.65">课。坚决杜绝无教案上课和"放羊式"教学。</tspan></text>
</g>
<g id="b2-2b">
<line class="u" x1="363" y1="1721" x2="600" y2="1721"/>
<text class="p"><tspan x="369" y="1697.35">2、结合体育课程标准，因地制宜制订教学计</tspan><tspan x="369" dy="14.65">划。</tspan></text>
</g>
<g id="b2-2b0">
<line class="u" x1="105" y1="1571" x2="342" y2="1571"/>
<text class="p"><tspan x="111" y="1547.35">学校要求体育教师，因地制宜上好每一堂体育</tspan><tspan x="111" dy="14.65">课。学校主要抓了六个方面的工作。</tspan></text>
</g>
<g id="b2-2b1"><line class="u" x1="218" y1="1620" x2="342" y2="1620"/><text class="p" x="223" y="1611">⑴抓教学进度和备课。</text></g>
<g id="b2-2b2"><line class="u" x1="251" y1="1670" x2="342" y2="1670"/><text class="p" x="256" y="1661">⑵抓常规纪律。</text></g>
<g id="b2-2b3"><line class="u" x1="252" y1="1721" x2="342" y2="1721"/><text class="p" x="257" y="1712">⑶抓安全教育。</text></g>
<g id="b2-2b4"><line class="u" x1="252" y1="1771" x2="342" y2="1771"/><text class="p" x="257" y="1762">⑷抓运动密度。</text></g>
<g id="b2-2b5"><line class="u" x1="252" y1="1821" x2="342" y2="1821"/><text class="p" x="257" y="1812">⑸抓锻炼实效。</text></g>
<g id="b2-2b6"><line class="u" x1="252" y1="1871" x2="342" y2="1871"/><text class="p" x="257" y="1862">⑹抓听课评课。</text></g>
<g id="b2-2c">
<line class="u" x1="363" y1="2037" x2="600" y2="2037"/>
<text class="p"><tspan x="369" y="2013.35">3、树立课外活动是课内体育教学的延伸的教</tspan><tspan x="369" dy="14.65">学观念。</tspan></text>
</g>
<g id="b2-2cp">
<line class="u" x1="105" y1="2037" x2="342" y2="2037"/>
<text class="p"><tspan x="111" y="1910.8">体育竞赛活动和群体活动是体育课教学工作的</tspan><tspan x="111" dy="14.65">实效的检验。只有让学生掌握基本的运动技能</tspan><tspan x="111" dy="14.65">，才能更好地开展体育竞赛活动和群体活动，</tspan><tspan x="111" dy="14.65">促进体育运动水平的提高。学校要求体育教师</tspan><tspan x="111" dy="14.65">凡是学校开展的竞赛活动和群体活动，都要列</tspan><tspan x="111" dy="14.65">入体育教学计划之中，对学生加以指导。这样</tspan><tspan x="111" dy="14.65">既推动了竞赛活动和群体活动的开展，反过来</tspan><tspan x="111" dy="14.65">又促使学生重视体育课的教学，提高了体育课</tspan><tspan x="111" dy="14.65">的实效性和学生的兴趣。</tspan></text>
</g>
<g id="b2-3">
<line class="u" x1="566" y1="2198" x2="801" y2="2198"/>
<text class="p"><tspan x="571" y="2174.35">三、建设一支具有良好素质的师资队伍，是搞</tspan><tspan x="571" dy="14.65">好体育教学工作的有力保证</tspan></text>
</g>
<g id="b2-3p">
<line class="u" x1="303" y1="2198" x2="543" y2="2198"/>
<text class="p"><tspan x="313" y="2130.4">教研组是学校落实教学工作，开展教学研究和</tspan><tspan x="313" dy="14.65">提高教师业务水平的主要基地之一。有计划正</tspan><tspan x="313" dy="14.65">常地开展教研组活动，研讨教学工作，学校体</tspan><tspan x="313" dy="14.65">育工作，交流思想，统一认识是搞好学校体育</tspan><tspan x="313" dy="14.65">教学工作的基本保证。我们的做法是：</tspan></text>
</g>
<g id="b2-3-1"><line class="u" x1="48" y1="2102" x2="285" y2="2102"/><text class="p"><tspan x="53" y="2078.35">⑴集体参与制订学校体育工作计划，共同做好</tspan><tspan x="53" dy="14.65">体育工作小结。</tspan></text></g>
<g id="b2-3-2"><line class="u" x1="48" y1="2167" x2="285" y2="2167"/><text class="p"><tspan x="53" y="2143.35">⑵立足本职，收集好各种资料，发现问题，共</tspan><tspan x="53" dy="14.65">同分析，探讨解决办法。</tspan></text></g>
<g id="b2-3-3"><line class="u" x1="48" y1="2231" x2="285" y2="2231"/><text class="p"><tspan x="53" y="2207.35">⑶学校的体育竞赛和群体活动分工不分家，群</tspan><tspan x="53" dy="14.65">策群力。</tspan></text></g>
<g id="b2-3-4"><line class="u" x1="48" y1="2296" x2="285" y2="2296"/><text class="p"><tspan x="53" y="2272.35">⑷每学年每位体育教师要写一篇教学心得或论</tspan><tspan x="53" dy="14.65">文，以提高自己的业务水平。</tspan></text></g>

<!-- Board 4 -->
<g id="b4">
<rect class="b" x="823" y="2819" width="212" height="34" rx="2"/>
<text class="h" x="831" y="2841">初中体育教师工作总结模板篇4</text>
</g>
<g id="b4-1">
<line class="u" x1="565" y1="2417" x2="805" y2="2417"/>
<text class="p"><tspan x="571" y="2334.75">都说时光荏苒，岁月如梭，转眼一学期就过去</tspan><tspan x="571" dy="14.65">了。可是我觉得，这四个多月过得实在漫长，</tspan><tspan x="571" dy="14.65">至少在体育课上是这样。实话实说，这学期的</tspan><tspan x="571" dy="14.65">体育课，我是熬过来的；下学期的五个月，差</tspan><tspan x="571" dy="14.65">不多也将是熬过去。过得的确有些难受，但体</tspan><tspan x="571" dy="14.65">会多少会深刻些。</tspan></text>
</g>
<g id="b4-2">
<line class="u" x1="565" y1="2555" x2="805" y2="2555"/>
<text class="p"><tspan x="571" y="2458.1">教了半学期体育课，我给自己的评价是基本及</tspan><tspan x="571" dy="14.65">格。当然获得这个成绩，多亏师傅王金瑞老师</tspan><tspan x="571" dy="14.65">的帮助，否则肯定不及格。自己水平摆在那，</tspan><tspan x="571" dy="14.65">面对学生脑子空空，全无一点主意。还好有王</tspan><tspan x="571" dy="14.65">老师的教诲指导，我才得以顺利熬过这学期。</tspan><tspan x="571" dy="14.65">下学期还得继续仰仗王老师的帮助提携。感谢</tspan><tspan x="571" dy="14.65">的话暂且不说，徒弟全部埋在心里。</tspan></text>
</g>
<g id="b4-3">
<line class="u" x1="565" y1="2664" x2="805" y2="2664"/>
<text class="p"><tspan x="571" y="2596.4">这学期虽算是苦熬日子，但却有颇多的收获，</tspan><tspan x="571" dy="14.65">这算是给自己的一个交代。半年的日子不能白</tspan><tspan x="571" dy="14.65">过，我得为学生负责，也算是对得起自己。在</tspan><tspan x="571" dy="14.65">教学上，我尽量提高自己的体育水平，而在管</tspan><tspan x="571" dy="14.65">理上绝对严格要求自己。</tspan></text>
</g>
<g id="b4-4">
<line class="u" x1="565" y1="2901" x2="805" y2="2901"/>
<text class="p"><tspan x="571" y="2701.55">对学生，对各个班级，绝对不能有半点懈怠。</tspan><tspan x="571" dy="14.65">尤其对初一学生，更是管理得严厉。他们还小</tspan><tspan x="571" dy="14.65">，此时若管得不严，养出一些坏毛病，将来管</tspan><tspan x="571" dy="14.65">理会更麻烦，也不利于学生的发展。对于初二</tspan><tspan x="571" dy="14.65">的学生，也丝毫不能放松，尤其是 班，更要</tspan><tspan x="571" dy="14.65">严格管理。虽说他们距中考还远，但实际算来</tspan><tspan x="571" dy="14.65">，不过十八个月。时间过得很快，我得为他们</tspan><tspan x="571" dy="14.65">中考的体育负责。虽说中考时体育分数不多，</tspan><tspan x="571" dy="14.65">不可能指望体育分给提高总成绩。但若体育成</tspan><tspan x="571" dy="14.65">绩不好，反而给中考成绩拖后腿，我将觉得罪</tspan><tspan x="571" dy="14.65">过。我没什么本事，教不了学生多少体育知识</tspan><tspan x="571" dy="14.65">。我只能为他们中考负责，中考考什么，我就</tspan><tspan x="571" dy="14.65">训练什么。等他们都考上了好高中以后再考好</tspan><tspan x="571" dy="14.65">大学，想丰富体育知识，到那时去学！</tspan></text>
</g>
<g id="b4-5">
<line class="u" x1="565" y1="3025" x2="805" y2="3025"/>
<text class="p"><tspan x="571" y="2942.75">再有一个收获就是对体育课的认识。当学生时</tspan><tspan x="571" dy="14.65">我犯过一个错误，包括现在的学生也一样，误</tspan><tspan x="571" dy="14.65">以为体育课就是玩的课。到了体育课，出来尽</tspan><tspan x="571" dy="14.65">兴玩就是了。这一观念一定要改！体育课与语</tspan><tspan x="571" dy="14.65">数英等科一样，都需要严格遵守纪律，每节课</tspan><tspan x="571" dy="14.65">都要达到一定的目的。</tspan></text>
</g>
<g id="b4-6">
<line class="u" x1="565" y1="3177" x2="805" y2="3177"/>
<text class="p"><tspan x="571" y="3065.45">还有一点收获也非常重要！通过体育课，可以</tspan><tspan x="571" dy="14.65">与学生更好的交流沟通。体育课毕竟是在室外</tspan><tspan x="571" dy="14.65">，活动时间比较多，这时就可以多与学生交流</tspan><tspan x="571" dy="14.65">。学生在室外不比室内，通常会彻底放松，言</tspan><tspan x="571" dy="14.65">行举止忌讳不多，很容易暴露一些问题。通过</tspan><tspan x="571" dy="14.65">细心观察，可以掌握并了解学生的思想状态，</tspan><tspan x="571" dy="14.65">甚至可以更好的了解班级情况。这样会有助于</tspan><tspan x="571" dy="14.65">以后的教学。</tspan></text>
</g>
<g id="b4-7">
<line class="u" x1="565" y1="3255" x2="805" y2="3255"/>
<text class="p"><tspan x="571" y="3216.7">一学期的收获当然不止这些。这里只是简单谈</tspan><tspan x="571" dy="14.65">了点感想。还有许多失误不足的地方，还望各</tspan><tspan x="571" dy="14.65">位老师劳神指正，不胜感谢！</tspan></text>
</g>

<g id="watermark">
<text class="wm" text-anchor="middle" transform="translate(683,477) rotate(-30)">树图 <tspan>shutu.cn</tspan></text>
<text class="wm" text-anchor="middle" transform="translate(1955,470) rotate(-30)">树图 <tspan>shutu.cn</tspan></text>
<text class="wm" text-anchor="middle" transform="translate(652,1525) rotate(-30)">树图 <tspan>shutu.cn</tspan></text>
<text class="wm" text-anchor="middle" transform="translate(1929,1512) rotate(-30)">树图 <tspan>shutu.cn</tspan></text>
<text class="wm" text-anchor="middle" transform="translate(652,2529) rotate(-30)">树图 <tspan>shutu.cn</tspan></text>
<text class="wm" text-anchor="middle" transform="translate(1929,2516) rotate(-30)">树图 <tspan>shutu.cn</tspan></text>
<text class="wm" text-anchor="middle" transform="translate(652,3538) rotate(-30)">树图 <tspan>shutu.cn</tspan></text>
<text class="wm" text-anchor="middle" transform="translate(1929,3532) rotate(-30)">树图 <tspan>shutu.cn</tspan></text>
</g>
</svg>
